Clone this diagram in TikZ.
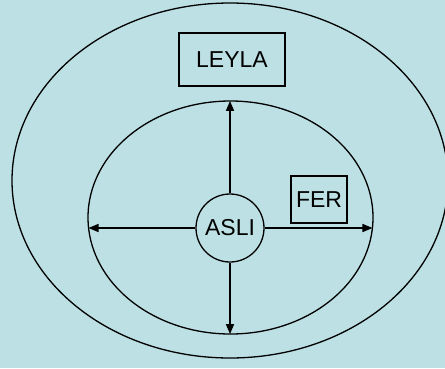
\documentclass[tikz,border=0pt]{standalone}
\usepackage{fontspec}
\setmainfont{Liberation Sans}
\usetikzlibrary{arrows, calc, positioning}
\definecolor{nennhat}{RGB}{188,224,228}
\newcommand{\drawe}{\draw[line width=1.3pt]}
\newcommand{\bigf}[1]{\fontsize{23}{27}\selectfont #1}
\tikzset{
  hop/.style={draw, line width=1.3pt, inner sep=0pt},
  tron/.style={draw, line width=1.3pt, circle, inner sep=0pt, minimum size=68pt}
}

\begin{document}
\begin{tikzpicture}[>=triangle 45, x=1pt, y=-1pt]
\fill[nennhat] (0,0) rectangle (445,368); %Nền
\useasboundingbox (0,0) rectangle (445,368);

%Vẽ hai elip
\drawe (230,180.5) ellipse [x radius=218, y radius=177.5]; %Elip ngoài
\drawe (230.5,217.5) ellipse [x radius=142.5, y radius=116.5]; %Elip trong

%Các nút
\node[tron] (asli) at (230,228) {\bigf{ASLI}};
\node[hop, minimum width=106pt, minimum height=53pt] (leyla) at (232,59.5) {\bigf{LEYLA}};
\node[hop, minimum width=56pt, minimum height=47pt] (fer) at (319,199.5) {\bigf{FER}};

%Điểm trên elip trong
\coordinate (tren) at (230,101);
\coordinate (duoi) at (230,334);
\coordinate (trai) at (88.6,228);
\coordinate (phai) at (372.4,228);

%Vẽ mũi tên
\drawe[->] (asli.north) -- (tren);
\drawe[->] (asli.south) -- (duoi);
\drawe[->] (asli.west) -- (trai);
\drawe[->] (asli.east) -- (phai);
\end{tikzpicture}
\end{document}
